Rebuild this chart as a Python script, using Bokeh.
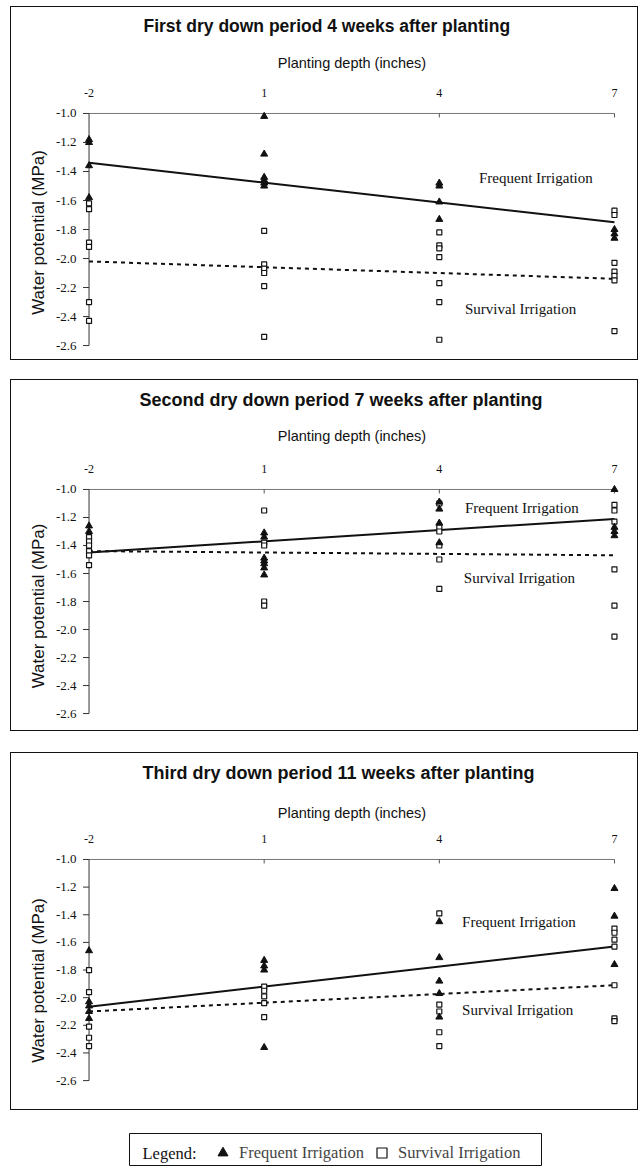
from bokeh.plotting import figure
from bokeh.models import (FixedTicker, NumeralTickFormatter, Legend, LegendItem, Spacer, Label,
                          Title)
from bokeh.layouts import column, row
from bokeh.embed import file_html
from bokeh.resources import INLINE
from bokeh.core.properties import value

# ---------------- data ----------------
depth_ticks = [-2, 1, 4, 7]
y_ticks = [-1.0, -1.2, -1.4, -1.6, -1.8, -2.0, -2.2, -2.4, -2.6]
fit_depths = [-2, 7]

titles = [
    "First dry down period 4 weeks after planting",
    "Second dry down period 7 weeks after planting",
    "Third dry down period 11 weeks after planting",
]

# Panel 1 - first dry down
p1_freq = {-2: [-1.18, -1.20, -1.36, -1.58],
           1: [-1.02, -1.28, -1.44, -1.46, -1.48, -1.50],
           4: [-1.48, -1.50, -1.61, -1.73],
           7: [-1.80, -1.83, -1.86]}
p1_surv = {-2: [-1.62, -1.66, -1.89, -1.92, -2.30, -2.43],
           1: [-1.81, -2.04, -2.07, -2.10, -2.19, -2.54],
           4: [-1.82, -1.91, -1.93, -1.99, -2.17, -2.30, -2.56],
           7: [-1.67, -1.70, -2.03, -2.09, -2.12, -2.15, -2.50]}
p1_freq_fit = [-1.34, -1.75]
p1_surv_fit = [-2.02, -2.14]

# Panel 2 - second dry down
p2_freq = {-2: [-1.26, -1.30],
           1: [-1.31, -1.34, -1.49, -1.51, -1.53, -1.56, -1.61],
           4: [-1.09, -1.14, -1.24, -1.38],
           7: [-1.00, -1.27, -1.30, -1.33]}
p2_surv = {-2: [-1.34, -1.37, -1.40, -1.44, -1.47, -1.54],
           1: [-1.15, -1.38, -1.40, -1.80, -1.83],
           4: [-1.10, -1.27, -1.30, -1.40, -1.50, -1.71],
           7: [-1.11, -1.15, -1.23, -1.57, -1.83, -2.05]}
p2_freq_fit = [-1.45, -1.21]
p2_surv_fit = [-1.44, -1.47]

# Panel 3 - third dry down
p3_freq = {-2: [-1.66, -2.03, -2.06, -2.10, -2.15],
           1: [-1.73, -1.77, -1.80, -2.36],
           4: [-1.45, -1.71, -1.88, -1.97, -2.14],
           7: [-1.21, -1.41, -1.76]}
p3_surv = {-2: [-1.80, -1.96, -2.21, -2.29, -2.35],
           1: [-1.92, -1.95, -1.99, -2.04, -2.14],
           4: [-1.39, -2.05, -2.10, -2.25, -2.35],
           7: [-1.50, -1.53, -1.58, -1.63, -1.91, -2.15, -2.17]}
p3_freq_fit = [-2.065, -1.63]
p3_surv_fit = [-2.10, -1.91]

series_names = ["Frequent Irrigation", "Survival Irrigation"]


def expand(d):
    xs, ys = [], []
    for k, vals in d.items():
        for v in vals:
            xs.append(k)
            ys.append(v)
    return xs, ys


SERIF = "Liberation Serif"
SANS = "Liberation Sans"
X_PX = 58.17  # pixels per depth unit


def make_panel(title, freq, surv, ffit, sfit, height, y_range, lay, labels):
    T, mls, als, gap, ts, yscale, tsize, toff = lay
    p = figure(width=628, height=height, output_backend="svg", toolbar_location=None,
               x_range=(-2 - 10.5 / X_PX, 7 + 11 / X_PX), y_range=y_range,
               x_axis_location="above",
               min_border_left=67, min_border_right=14, min_border_top=T,
               min_border_bottom=5)
    p.styles = {"border": "1px solid #111"}
    p.background_fill_color = "white"
    p.border_fill_color = "white"
    p.outline_line_color = None
    p.grid.visible = False

    # blank spacer between the axis label and the title
    p.add_layout(Title(text=" ", text_font_size="1px", standoff=gap), "above")

    p.title.text = title
    p.title.text_font = SANS
    p.title.text_font_size = tsize
    p.title.text_font_style = "bold"
    p.title.text_color = "#111"
    p.title.align = "left"
    p.title.offset = toff
    p.title.standoff = ts

    xa = p.xaxis[0]
    xa.ticker = FixedTicker(ticks=depth_ticks)
    xa.formatter = NumeralTickFormatter(format="0")
    xa.axis_label = "Planting depth (inches)"
    xa.axis_label_text_font = SANS
    xa.axis_label_text_font_size = "14.5px"
    xa.axis_label_text_font_style = "normal"
    xa.axis_label_text_color = "#111"
    xa.major_label_text_font = SERIF
    xa.major_label_text_font_size = "12px"
    xa.major_label_text_color = "#111"
    xa.axis_line_color = None
    xa.major_tick_line_color = None
    xa.minor_tick_line_color = None
    xa.major_tick_out = 0
    xa.major_label_standoff = mls
    xa.axis_label_standoff = als

    ya = p.yaxis[0]
    ya.ticker = FixedTicker(ticks=y_ticks)
    ya.formatter = NumeralTickFormatter(format="0.0")
    ya.axis_label = "Water potential (MPa)"
    ya.axis_label_text_font = SANS
    ya.axis_label_text_font_size = "17px"
    ya.axis_label_text_font_style = "normal"
    ya.axis_label_text_color = "#111"
    ya.major_label_text_font = SERIF
    ya.major_label_text_font_size = "13px"
    ya.major_label_text_color = "#111"
    ya.axis_line_color = None
    ya.major_tick_line_color = None
    ya.minor_tick_line_color = None
    ya.major_tick_out = 0
    ya.major_label_standoff = 2
    ya.axis_label_standoff = 5

    # own axis lines through (-2, -1.0)
    p.segment(x0=[depth_ticks[0]], y0=[y_ticks[0]], x1=[depth_ticks[-1]], y1=[y_ticks[0]],
              line_color="#777", line_width=1)
    p.segment(x0=[depth_ticks[0]], y0=[y_ticks[0]], x1=[depth_ticks[0]], y1=[y_ticks[-1]],
              line_color="#333", line_width=1)
    p.segment(x0=[depth_ticks[0] - 6 / X_PX] * len(y_ticks), y0=y_ticks,
              x1=[depth_ticks[0]] * len(y_ticks), y1=y_ticks, line_color="#333", line_width=1)
    p.segment(x0=depth_ticks[1:], y0=[y_ticks[0]] * 3, x1=depth_ticks[1:],
              y1=[y_ticks[0] - 4 / yscale] * 3, line_color="#555", line_width=1)

    # fit lines
    p.line(fit_depths, ffit, line_color="#111", line_width=2)
    p.line(fit_depths, sfit, line_color="#111", line_width=2, line_dash="4 4")

    fx, fy = expand(freq)
    sx, sy = expand(surv)
    p.scatter(sx, sy, marker="square", size=5, fill_color="white", line_color="#111",
              line_width=1.2)
    p.scatter(fx, fy, marker="triangle", size=7, fill_color="#111", line_color="#111")

    lx = [a[0] for a in labels]
    ly = [a[1] for a in labels]
    p.text(x=lx, y=ly, text=series_names, text_font=value(SERIF), text_font_size="15px",
           text_baseline="middle", text_align="left", text_color="#111")
    return p


# layout: min_border_top, tick standoff, axis-label standoff, spacer gap, title standoff,
#         px/MPa, title size, title offset
p1 = make_panel(titles[0], p1_freq, p1_surv, p1_freq_fit, p1_surv_fit, 354,
                (-2.6 - 11 / 145.6, -1.0 + 5 / 145.6),
                (101, 12, 15, 6.8, 11.5, 145.6, "17.5px", 65),
                [(4.68, -1.446), (4.44, -2.35)])
p2 = make_panel(titles[1], p2_freq, p2_surv, p2_freq_fit, p2_surv_fit, 352,
                (-2.6 - 14 / 140.6, -1.0 + 5 / 140.6),
                (104, 12, 18, 5.8, 11.8, 140.6, "18px", 61),
                [(4.44, -1.13), (4.42, -1.63)])
p3 = make_panel(titles[2], p3_freq, p3_surv, p3_freq_fit, p3_surv_fit, 358,
                (-2.6 - 26 / 138.75, -1.0 + 5 / 138.75),
                (101, 12, 11, 9.8, 11.8, 138.75, "18px", 64),
                [(4.39, -1.454), (4.39, -2.09)])

# legend box
leg = figure(width=414, height=34, output_backend="svg", toolbar_location=None,
             x_range=(0, 1), y_range=(0, 1), min_border=1)
leg.axis.visible = False
leg.grid.visible = False
leg.outline_line_color = "#111"
leg.outline_line_width = 1
# off-range stand-ins that only give the legend its two glyphs
r1 = leg.scatter(x=[5], y=[5], marker="triangle", fill_color="#111", line_color="#111")
r2 = leg.scatter(x=[5], y=[5], marker="square", fill_color="white", line_color="#111",
                 line_width=1.2)
legend = Legend(items=[LegendItem(label=series_names[0], renderers=[r1]),
                       LegendItem(label=series_names[1], renderers=[r2])],
                orientation="horizontal",
                location=(81, 0), border_line_color=None, background_fill_alpha=0,
                padding=0, margin=0, glyph_width=25, glyph_height=25,
                label_standoff=4, spacing=5,
                label_text_font=SERIF, label_text_font_size="16.5px")
leg.add_layout(legend)
leg.add_layout(Label(x=13, y=12, x_units="screen", y_units="screen", text="Legend:",
                     text_font=SERIF, text_font_size="16.5px", text_baseline="middle",
                     text_color="#111"))

panels = column(Spacer(height=6), p1, Spacer(height=19), p2, Spacer(height=21), p3,
                Spacer(height=22), row(Spacer(width=118), leg))
layout = row(Spacer(width=10), panels)

open("out.html", "w").write(file_html(layout, INLINE))
